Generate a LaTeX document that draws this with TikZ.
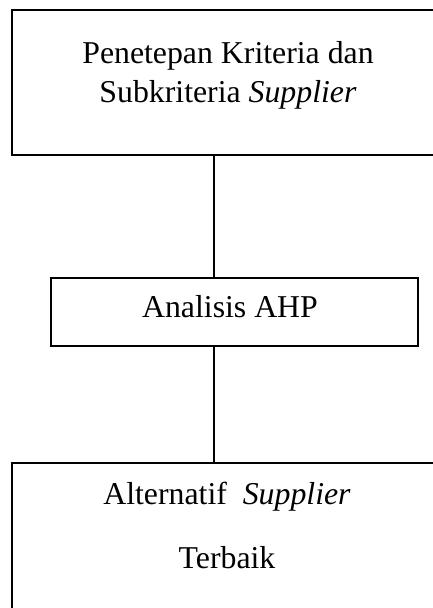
\documentclass[tikz,border=0pt]{standalone}
\usepackage{fontspec}
\setmainfont{Liberation Serif}
\usetikzlibrary{positioning}
\tikzstyle{block} = [rectangle, draw=black, line width=1pt, inner sep=0pt]
\tikzstyle{txt} = [align=center, inner sep=0pt, font=\fontsize{12}{14.8}\selectfont]
\tikzstyle{line} = [draw, line width=0.4pt]

\begin{document}
\begin{tikzpicture}[x=0.3774pt, y=-0.3774pt]
	\useasboundingbox (0,0) rectangle (433,608);
	% blocks
	\node [block, minimum width=165.3pt, minimum height=54.7pt] (crit) at (231,82.5) {};
	\node [block, minimum width=138.5pt, minimum height=25.7pt] (ahp) at (234.5,312) {};
	\node [block, minimum width=165.3pt, minimum height=61.1pt] (alt) at (231,544) {};
	% texts
	\node [txt, anchor=base] (crittext) at (228,102.5) {Penetepan Kriteria dan\\Subkriteria \textit{Supplier}};
	\node [txt, anchor=base] (ahptext) at (230,317) {Analisis AHP};
	\node [txt, anchor=base] (alttext) at (227,568) {Alternatif\ \ \textit{Supplier}\\[9pt]Terbaik};
	% lines
	\coordinate (conn) at (214,0);
	\draw [line] (crit.south -| conn) -- (ahp.north -| conn);
	\draw [line] (ahp.south -| conn) -- (alt.north -| conn);
\end{tikzpicture}
\end{document}
